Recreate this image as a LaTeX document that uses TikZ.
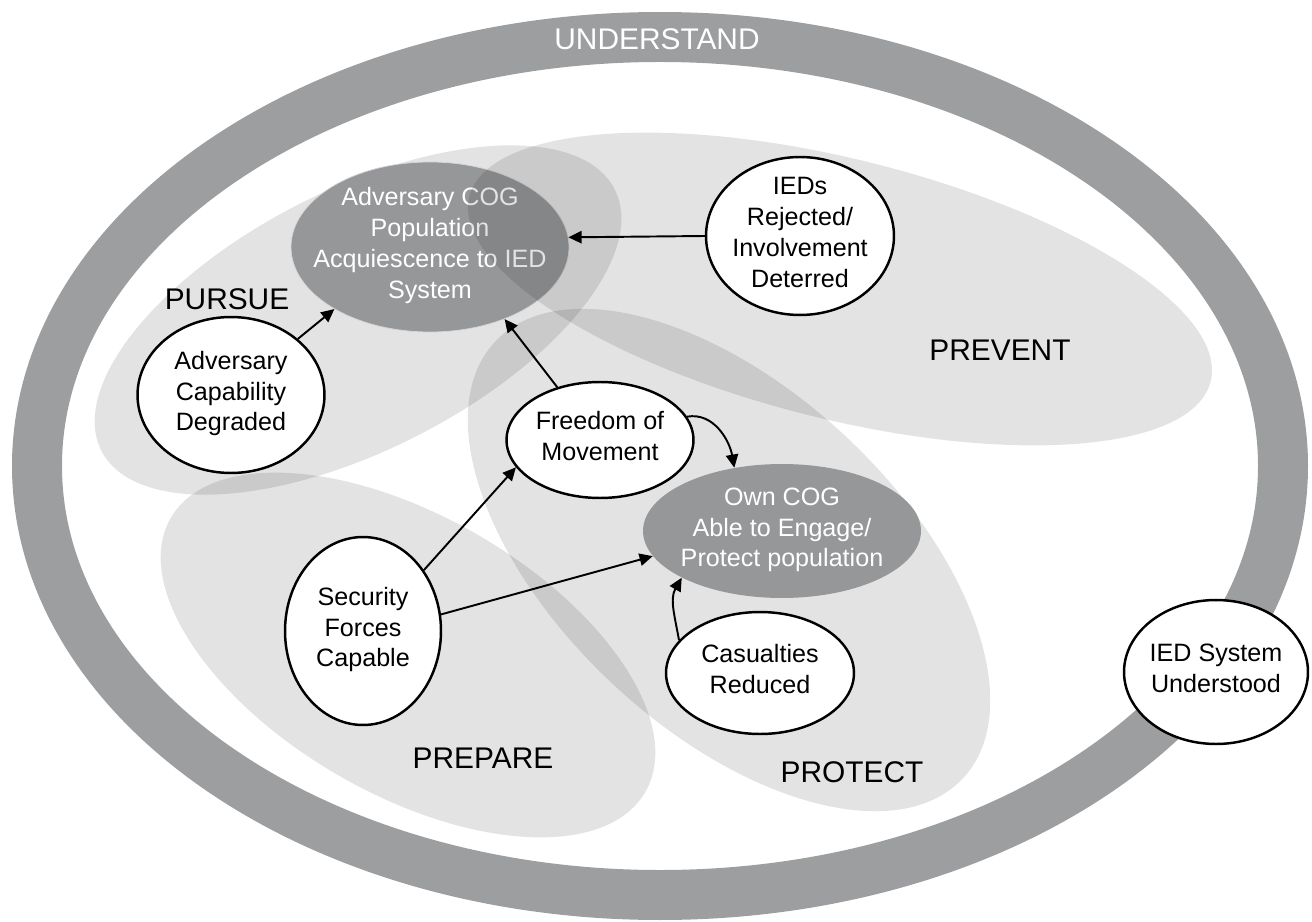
\documentclass[tikz,border=0pt]{standalone}
\usepackage{fontspec}
\setmainfont{Liberation Sans}
\usepackage{tikz}
\usetikzlibrary{shapes.geometric,arrows.meta}
\definecolor{ringgray}{RGB}{157,158,160}
\definecolor{coggray}{RGB}{150,151,153}
\newcommand{\ntext}[1]{\smash{\raisebox{-3pt}{\makebox[0pt]{\begin{tabular}{@{}c@{}}#1\end{tabular}}}}}
\tikzset{%
    lobe/.style={%
        fill=black, fill opacity=0.11, draw=none
    },
    area label/.style={%
        font=\fontsize{17}{20}\selectfont
    }
}

\begin{document}
\begin{tikzpicture}[->,>={Triangle[length=7.5pt,width=7pt]},x=0.02cm,y=-0.02cm,
  line width=1.1pt,
  main node/.style={ellipse,draw,fill=white,line width=1.4pt,inner sep=0pt,
    font=\fontsize{14.3}{17.5}\selectfont},
  cog node/.style={main node,fill=coggray,draw=coggray!40!white,line width=0.4pt,text=white}]

  \useasboundingbox (0,0) rectangle (1312,922);

  % understand ring
  \draw[-,draw=ringgray,line width=1cm] (660,466) ellipse [x radius=623, y radius=429];
  \node[area label,text=white] (understand) at (657,39) {UNDERSTAND};

  \fill[lobe,rotate around={27:(358,320)}] (358,320) ellipse [x radius=288, y radius=130];
  \fill[lobe,rotate around={-30:(408,655)}] (408,655) ellipse [x radius=274, y radius=139];
  \fill[lobe,rotate around={-43:(729,560)}] (729,560) ellipse [x radius=320, y radius=170];

  \node[cog node,minimum width=5.56cm,minimum height=3.4cm] (1) at (430,247)
    {\ntext{Adversary COG\\Population\\Acquiescence to IED\\System}};

  % prevent lobe goes over the adversary COG
  \fill[lobe,rotate around={-14:(840,289)}] (840,289) ellipse [x radius=382, y radius=130];

  \node[main node,minimum width=3.76cm,minimum height=3.16cm] (2) at (800,236)
    {\ntext{IEDs\\Rejected/\\Involvement\\Deterred}};
  \node[main node,minimum width=3.74cm,minimum height=3.12cm] (3) at (231,395)
    {\ntext{Adversary\\Capability\\Degraded}};
  \node[main node,minimum width=3.74cm,minimum height=2.32cm] (4) at (600,440)
    {\ntext{Freedom of\\Movement}};
  \node[cog node,draw=none,minimum width=5.56cm,minimum height=2.68cm] (5) at (782,531)
    {\ntext{Own COG\\Able to Engage/\\Protect population}};
  \node[main node,minimum width=3.12cm,minimum height=3.76cm] (6) at (363,631)
    {\ntext{Security\\Forces\\Capable}};
  \node[main node,minimum width=3.76cm,minimum height=2.44cm] (7) at (760,673)
    {\ntext{Casualties\\Reduced}};
  \node[main node,minimum width=3.68cm,minimum height=2.88cm] (8) at (1216,672)
    {\ntext{IED System\\Understood}};

  \node[area label] (pursue) at (227,299) {PURSUE};
  \node[area label] (prevent) at (1000,350) {PREVENT};
  \node[area label] (prepare) at (483,758) {PREPARE};
  \node[area label] (protect) at (852,772) {PROTECT};

  \path
    (2.west) edge (1.4)
    (3.40) edge (1.213)
    (4.129) edge (1.316)
    (4.15) edge[out=10,in=100] (5.127)
    (6.45) edge (4.198)
    (6.12) edge (5.191)
    (7.158) edge[out=100,in=240] (5.205);
\end{tikzpicture}
\end{document}
